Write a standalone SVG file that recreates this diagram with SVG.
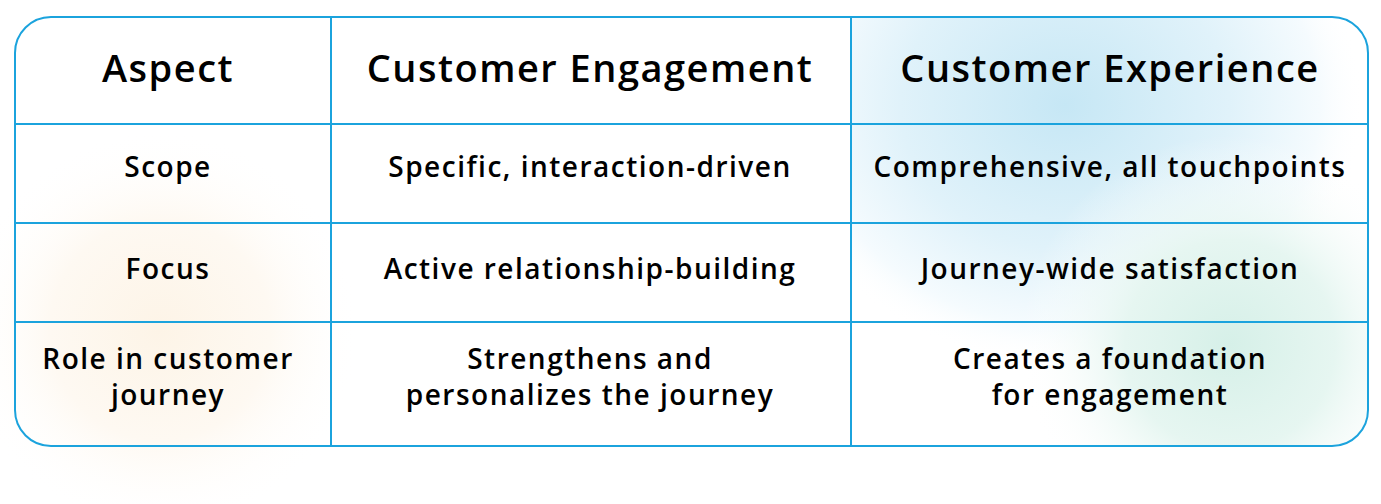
<svg xmlns="http://www.w3.org/2000/svg" width="1381" height="504" viewBox="0 0 1381 504">
<defs>
<clipPath id="col3Clip">
<rect x="851" y="17" width="517" height="429" rx="36" ry="36"/>
<rect x="851" y="17" width="100" height="429"/>
</clipPath>
<radialGradient id="gBlue" cx="1065" cy="105" r="260" gradientUnits="userSpaceOnUse" gradientTransform="translate(1065 105) scale(1.15 1) translate(-1065 -105)">
<stop offset="0" stop-color="#c6e7f5"/>
<stop offset="0.55" stop-color="#e0f2fa"/>
<stop offset="0.85" stop-color="#f5fbfe"/>
<stop offset="1" stop-color="#ffffff" stop-opacity="0"/>
</radialGradient>
<radialGradient id="gGreen" cx="1230" cy="345" r="210" gradientUnits="userSpaceOnUse">
<stop offset="0" stop-color="#d6f0e8"/>
<stop offset="0.5" stop-color="#e6f6f1"/>
<stop offset="1" stop-color="#ffffff" stop-opacity="0"/>
</radialGradient>
<radialGradient id="gOrange" cx="160" cy="330" r="200" gradientUnits="userSpaceOnUse">
<stop offset="0" stop-color="#fdf4e7"/>
<stop offset="0.55" stop-color="#fef9f2"/>
<stop offset="1" stop-color="#ffffff" stop-opacity="0"/>
</radialGradient>
</defs>
<style>
.hd{font-family:"Open Sans","Liberation Sans",sans-serif;font-weight:600;font-size:38px;letter-spacing:1.5px;fill:#000;text-anchor:middle}
.tx{font-family:"Open Sans","Liberation Sans",sans-serif;font-weight:600;font-size:28px;letter-spacing:1.5px;fill:#000;text-anchor:middle}
.ln{stroke:#1ba3dd;stroke-width:2;fill:none}
</style>
<rect width="1381" height="504" fill="#ffffff"/>
<g id="background">
<circle cx="160" cy="330" r="200" fill="url(#gOrange)"/>
<g clip-path="url(#col3Clip)">
<rect x="851" y="17" width="517" height="429" fill="url(#gBlue)"/>
<circle cx="1230" cy="345" r="210" fill="url(#gGreen)"/>
</g>
</g>
<g id="connectors">
<rect class="ln" x="15" y="17" width="1353" height="429" rx="36" ry="36"/>
<line class="ln" x1="331" y1="17" x2="331" y2="446"/>
<line class="ln" x1="851" y1="17" x2="851" y2="446"/>
<line class="ln" x1="15" y1="124" x2="1368" y2="124"/>
<line class="ln" x1="15" y1="223" x2="1368" y2="223"/>
<line class="ln" x1="15" y1="322" x2="1368" y2="322"/>
</g>
<g id="h-aspect"><text class="hd" x="168" y="82">Aspect</text></g>
<g id="h-engagement"><text class="hd" x="590" y="82">Customer Engagement</text></g>
<g id="h-experience"><text class="hd" x="1110" y="82">Customer Experience</text></g>
<g id="r1-aspect"><text class="tx" x="168" y="177">Scope</text></g>
<g id="r1-engagement"><text class="tx" x="590" y="177">Specific, interaction-driven</text></g>
<g id="r1-experience"><text class="tx" x="1110" y="177">Comprehensive, all touchpoints</text></g>
<g id="r2-aspect"><text class="tx" x="168" y="279">Focus</text></g>
<g id="r2-engagement"><text class="tx" x="590" y="279">Active relationship-building</text></g>
<g id="r2-experience"><text class="tx" x="1110" y="279">Journey-wide satisfaction</text></g>
<g id="r3-aspect"><text class="tx" x="168" y="369">Role in customer</text><text class="tx" x="168" y="405">journey</text></g>
<g id="r3-engagement"><text class="tx" x="590" y="369">Strengthens and</text><text class="tx" x="590" y="405">personalizes the journey</text></g>
<g id="r3-experience"><text class="tx" x="1110" y="369">Creates a foundation</text><text class="tx" x="1110" y="405">for engagement</text></g>
</svg>
